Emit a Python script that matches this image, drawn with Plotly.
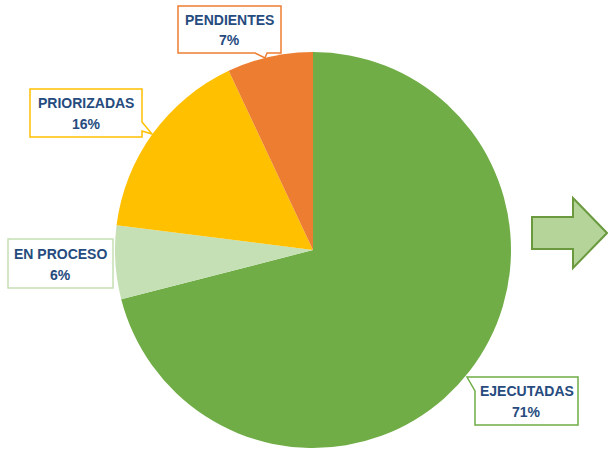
import plotly.graph_objects as go

labels = ["EJECUTADAS", "EN PROCESO", "PRIORIZADAS", "PENDIENTES"]
values = [71, 6, 16, 7]
colors = ["#70AD47", "#C5E0B4", "#FFC000", "#ED7D31"]

W, H = 608, 450
def px(x):
    return x / W
def py(y):
    return 1 - y / H

fig = go.Figure()
fig.add_trace(go.Pie(
    labels=labels, values=values, sort=False, direction="clockwise", rotation=0,
    marker=dict(colors=colors, line=dict(width=0)),
    textinfo="none", hoverinfo="label+percent", showlegend=False,
    domain=dict(x=[px(115), px(511)], y=[py(448), py(52)]),
))

# callout boxes (pixel geometry): box l, t, r, b and outline path with tail
callouts = {
    "PENDIENTES": dict(box=(178, 6, 281, 53), path=[(178, 6), (281, 6), (281, 53), (267, 53), (265, 58), (255, 53), (178, 53)]),
    "PRIORIZADAS": dict(box=(30, 89, 142, 137), path=[(30, 89), (142, 89), (142, 122), (152, 134), (142, 131), (142, 137), (30, 137)]),
    "EN PROCESO": dict(box=(8, 239, 113, 288), path=[(8, 239), (113, 239), (113, 288), (8, 288)]),
    "EJECUTADAS": dict(box=(475, 377, 578, 425), path=[(481, 377), (578, 377), (578, 425), (475, 425), (475, 391), (467, 377)]),
}

text_color = "#264B7E"
shapes = []
annotations = []
for lab, val, col in zip(labels, values, colors):
    c = callouts[lab]
    pts = c["path"]
    d = "M " + " L ".join(f"{px(x)},{py(y)}" for x, y in pts) + " Z"
    shapes.append(dict(type="path", xref="paper", yref="paper", path=d,
                       fillcolor="white", line=dict(color=col, width=1.5), layer="above"))
    l, t, r, b = c["box"]
    cx = (l + r) / 2
    cy = (t + b) / 2
    annotations.append(dict(x=px(cx), y=py(cy - 10), xref="paper", yref="paper",
                            text=f"<b>{lab}</b>", showarrow=False,
                            font=dict(family="Liberation Sans", size=14, color=text_color),
                            xanchor="center", yanchor="middle"))
    annotations.append(dict(x=px(cx), y=py(cy + 11), xref="paper", yref="paper",
                            text=f"<b>{val}%</b>", showarrow=False,
                            font=dict(family="Liberation Sans", size=14, color=text_color),
                            xanchor="center", yanchor="middle"))

# decorative arrow on the right
arrow_pts = [(532, 217), (573, 217), (573, 198), (607, 233), (573, 268), (573, 249), (532, 249)]
arrow_path = "M " + " L ".join(f"{px(x)},{py(y)}" for x, y in arrow_pts) + " Z"
shapes.append(dict(type="path", xref="paper", yref="paper", path=arrow_path,
                   fillcolor="#B4D49A", line=dict(color="#6B9A3E", width=2), layer="above"))

fig.update_layout(
    width=W, height=H, margin=dict(l=0, r=0, t=0, b=0),
    paper_bgcolor="white", plot_bgcolor="white",
    shapes=shapes, annotations=annotations,
)
fig.write_html("out.html", config={"displayModeBar": False},
               post_script="document.body.style.margin='0';document.body.style.overflow='hidden';")
